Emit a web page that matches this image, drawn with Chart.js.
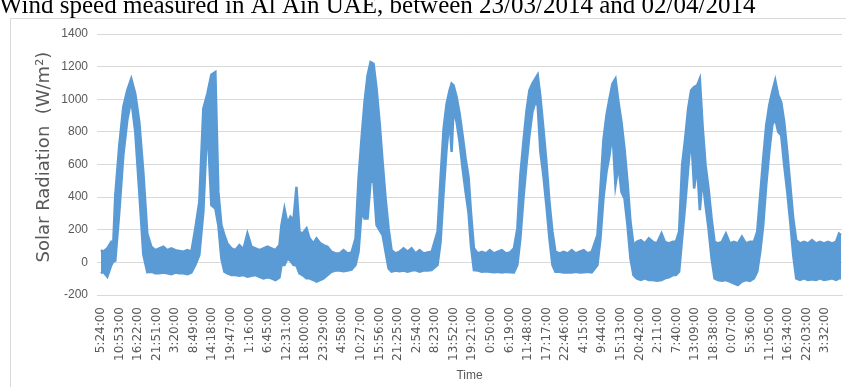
<!DOCTYPE html>
<html>
<head>
<meta charset="utf-8">
<script src="https://cdn.jsdelivr.net/npm/chart.js@4.4.1/dist/chart.umd.min.js"></script>
<style>
  html, body { margin: 0; padding: 0; background: #fff; overflow: hidden; }
  #wrap { position: relative; width: 846px; height: 387px; }
</style>
</head>
<body>
<div id="wrap"><canvas id="c" width="846" height="387"></canvas></div>
<script>
// Solar radiation logged every minute, Al Ain, 23/03/2014 - 02/04/2014
const chartTitle = 'Wind speed measured in Al Ain UAE, between 23/03/2014 and 02/04/2014';
const yAxisTitle = 'Solar Radiation  (W/m\u00B2)';
const xAxisTitle = 'Time';

// category labels, one every labelStep samples
const labelStep = 329;
const tickLabels = [
  '5:24:00', '10:53:00', '16:22:00', '21:51:00', '3:20:00', '8:49:00', '14:18:00', '19:47:00',
  '1:16:00', '6:45:00', '12:31:00', '18:00:00', '23:29:00', '4:58:00', '10:27:00', '15:56:00',
  '21:25:00', '2:54:00', '8:23:00', '13:52:00', '19:21:00', '0:50:00', '6:19:00', '11:48:00',
  '17:17:00', '22:46:00', '4:15:00', '9:44:00', '15:13:00', '20:42:00', '2:11:00', '7:40:00',
  '13:09:00', '18:38:00', '0:07:00', '5:36:00', '11:05:00', '16:34:00', '22:03:00', '3:32:00'
];

// sample index (minutes from first record) with the high / low reading around it
const minutes = [
  0, 41, 112, 183, 218, 254, 325, 396, 466, 537, 608, 679, 750, 821, 892,
  963, 1034, 1105, 1176, 1247, 1318, 1389, 1460, 1531, 1602,
  1672, 1743, 1814, 1885, 1956, 2027, 2080, 2134, 2187, 2240, 2311,
  2382, 2453, 2524, 2595, 2666, 2737, 2808, 2879, 2950, 3021, 3092, 3163,
  3198, 3251, 3304, 3358, 3411, 3464, 3517, 3571, 3642, 3695, 3766, 3819, 3890, 3943, 4014,
  4085, 4156, 4227, 4298, 4369, 4440,
  4511, 4564, 4617, 4670, 4724, 4777, 4830, 4883, 4936, 4990, 5043, 5096, 5149,
  5220, 5291, 5362, 5433, 5504, 5575, 5646, 5717, 5788, 5859,
  5964, 6017, 6071, 6124, 6177, 6213, 6248, 6301, 6355, 6408, 6461, 6514, 6555, 6608,
  6678, 6749, 6820, 6891, 6962, 7033, 7104, 7175, 7246, 7317,
  7378, 7431, 7485, 7538, 7591, 7644, 7697, 7738, 7786, 7839, 7892, 7946, 7999, 8052,
  8128, 8199, 8270, 8341, 8412, 8483, 8554, 8625, 8696,
  8797, 8850, 8903, 8957, 9010, 9063, 9116, 9169, 9222, 9276, 9329, 9382, 9435,
  9494, 9565, 9636, 9707, 9778, 9849, 9932, 9991, 10062, 10133, 10186,
  10244, 10297, 10351, 10404, 10457, 10510, 10563, 10611, 10659, 10712, 10765, 10819, 10872,
  10931, 11002, 11073, 11143, 11214, 11285, 11356, 11427, 11498, 11569,
  11628, 11681, 11734, 11787, 11841, 11894, 11947, 12000, 12053, 12106, 12160, 12213, 12266, 12319,
  12385, 12456, 12527, 12598, 12669, 12740, 12811, 12882, 12953, 13024, 13077, 13113
];
const upperWm2 = [
  75, 65, 86, 126, 116, 412, 718, 953, 1055, 1126, 1034, 861, 555, 177, 96,
  75, 86, 96, 75, 86, 75, 70, 65, 75, 65,
  208, 371, 942, 1034, 1150, 1167, 432, 228, 167, 116, 86,
  75, 106, 80, 177, 96, 86, 75, 86, 96, 86, 75, 106,
  228, 330, 240, 280, 260, 463, 188, 177, 208, 147, 116, 147, 116, 106, 96,
  65, 55, 55, 75, 55, 60,
  147, 514, 759, 983, 1146, 1228, 1218, 1065, 861, 616, 392, 208, 75,
  55, 65, 86, 65, 86, 55, 75, 55, 60, 65,
  188, 514, 820, 973, 1055, 1096, 1085, 1014, 912, 779, 636, 520, 310, 86,
  55, 65, 55, 75, 55, 65, 75, 55, 60, 86,
  208, 534, 738, 922, 1055, 1096, 1126, 1150, 1014, 820, 616, 371, 188, 65,
  55, 65, 55, 75, 55, 65, 75, 55, 65,
  167, 453, 749, 902, 1004, 1096, 1126, 983, 861, 698, 494, 249, 106,
  126, 136, 116, 147, 126, 116, 177, 126, 116, 126, 126,
  188, 596, 759, 942, 1055, 1075, 1085, 1126, 840, 596, 453, 269, 126,
  116, 126, 177, 116, 126, 116, 157, 116, 126, 126,
  188, 412, 636, 840, 963, 1045, 1116, 1024, 983, 861, 677, 473, 269, 136,
  116, 126, 116, 136, 116, 126, 116, 126, 116, 126, 177, 167
];
const lowerWm2 = [
  -67, -57, -88, -16, 4, 10, 310, 657, 871, 1000, 800, 432, 50, -60, -57,
  -67, -67, -62, -67, -72, -62, -67, -67, -72, -62,
  -16, 45, 310, 861, 351, 330, 228, 24, -57, -67, -78,
  -78, -82, -78, -88, -82, -78, -88, -98, -92, -98, -108, -92,
  -16, -16, 24, 10, -16, -20, -67, -78, -98, -98, -108, -118, -108, -98, -78,
  -57, -50, -50, -55, -50, -45,
  -16, 65, 310, 269, 269, 494, 494, 228, 198, 167, 65, -37, -57,
  -50, -55, -50, -57, -50, -47, -57, -50, -50, -47,
  -16, 126, 432, 698, 881, 677, 942, 861, 738, 575, 432, 300, 106, -47,
  -50, -57, -55, -57, -60, -57, -62, -57, -60, -62,
  -16, 147, 392, 596, 779, 922, 983, 963, 677, 534, 351, 147, -16, -57,
  -57, -62, -60, -62, -57, -62, -60, -57, -62,
  -16, 147, 392, 555, 657, 800, 473, 596, 432, 392, 228, 24, -78,
  -98, -108, -98, -108, -108, -113, -108, -98, -92, -78, -78,
  -57, 147, 351, 575, 779, 453, 596, 320, 514, 351, 208, 24, -98,
  -108, -113, -108, -118, -128, -139, -118, -108, -113, -98,
  -57, 65, 228, 473, 677, 840, 881, 800, 779, 596, 432, 249, 45, -98,
  -108, -98, -108, -103, -108, -98, -108, -103, -98, -108, -98, -98
];

const yMin = -200, yMax = 1400, yStep = 200;
const lineBlue = '#5b9bd5';
const gridGrey = '#d9d9d9';
const textGrey = '#595959';

const highPts = minutes.map((m, i) => ({ x: m, y: upperWm2[i] }));
const lowPts = minutes.map((m, i) => ({ x: m, y: lowerWm2[i] }));

// frame, page heading and vertical axis caption
const decorations = {
  id: 'decorations',
  beforeDraw(chart) {
    const ctx = chart.ctx;
    ctx.save();
    ctx.fillStyle = '#fff';
    ctx.fillRect(0, 0, chart.width, chart.height);
    ctx.strokeStyle = gridGrey;
    ctx.lineWidth = 1;
    ctx.strokeRect(10.5, 18.5, chart.width, chart.height);
    ctx.fillStyle = '#000';
    ctx.font = "25px 'Liberation Serif'";
    ctx.textAlign = 'left';
    ctx.textBaseline = 'alphabetic';
    ctx.fillText(chartTitle, -1, 12.5);
    ctx.restore();
  },
  afterDraw(chart) {
    const ctx = chart.ctx;
    ctx.save();
    ctx.translate(44, 157);
    ctx.rotate(-Math.PI / 2);
    ctx.textAlign = 'center';
    ctx.textBaseline = 'middle';
    ctx.fillStyle = textGrey;
    ctx.font = "18px 'DejaVu Sans'";
    ctx.fillText(yAxisTitle, 0, 0);
    ctx.restore();
  }
};

new Chart(document.getElementById('c'), {
  type: 'line',
  data: {
    datasets: [
      { data: highPts, borderColor: lineBlue, backgroundColor: lineBlue, borderWidth: 2.5,
        pointRadius: 0, tension: 0, fill: '+1' },
      { data: lowPts, borderColor: lineBlue, backgroundColor: lineBlue, borderWidth: 2.5,
        pointRadius: 0, tension: 0, fill: false }
    ]
  },
  options: {
    responsive: false,
    animation: false,
    layout: { padding: { left: 0, top: 34, right: 4, bottom: 0 } },
    plugins: { legend: { display: false }, tooltip: { enabled: false } },
    scales: {
      x: {
        type: 'linear',
        min: -70,
        max: 13130,
        afterBuildTicks(scale) {
          scale.ticks = tickLabels.map((_, i) => ({ value: i * labelStep }));
        },
        afterFit(scale) { scale.height = 92; },
        grid: { display: false },
        border: { display: true, color: gridGrey, width: 1 },
        ticks: {
          autoSkip: false,
          minRotation: 90,
          maxRotation: 90,
          padding: 4,
          color: textGrey,
          font: { family: "'DejaVu Sans'", size: 12 },
          callback: (v) => tickLabels[Math.round(v / labelStep)] ?? ''
        },
        title: {
          display: true,
          text: xAxisTitle,
          color: textGrey,
          font: { family: "'Liberation Sans'", size: 12 },
          padding: { top: 0, bottom: 4 }
        }
      },
      y: {
        min: yMin,
        max: yMax,
        afterFit(scale) { scale.width = 97; },
        grid: { color: gridGrey, lineWidth: 1, drawTicks: false },
        border: { display: false },
        ticks: {
          stepSize: yStep,
          padding: 9,
          color: textGrey,
          font: { family: "'Liberation Sans'", size: 12 },
          callback: (v) => String(v)
        }
      }
    }
  },
  plugins: [decorations]
});
</script>
</body>
</html>
